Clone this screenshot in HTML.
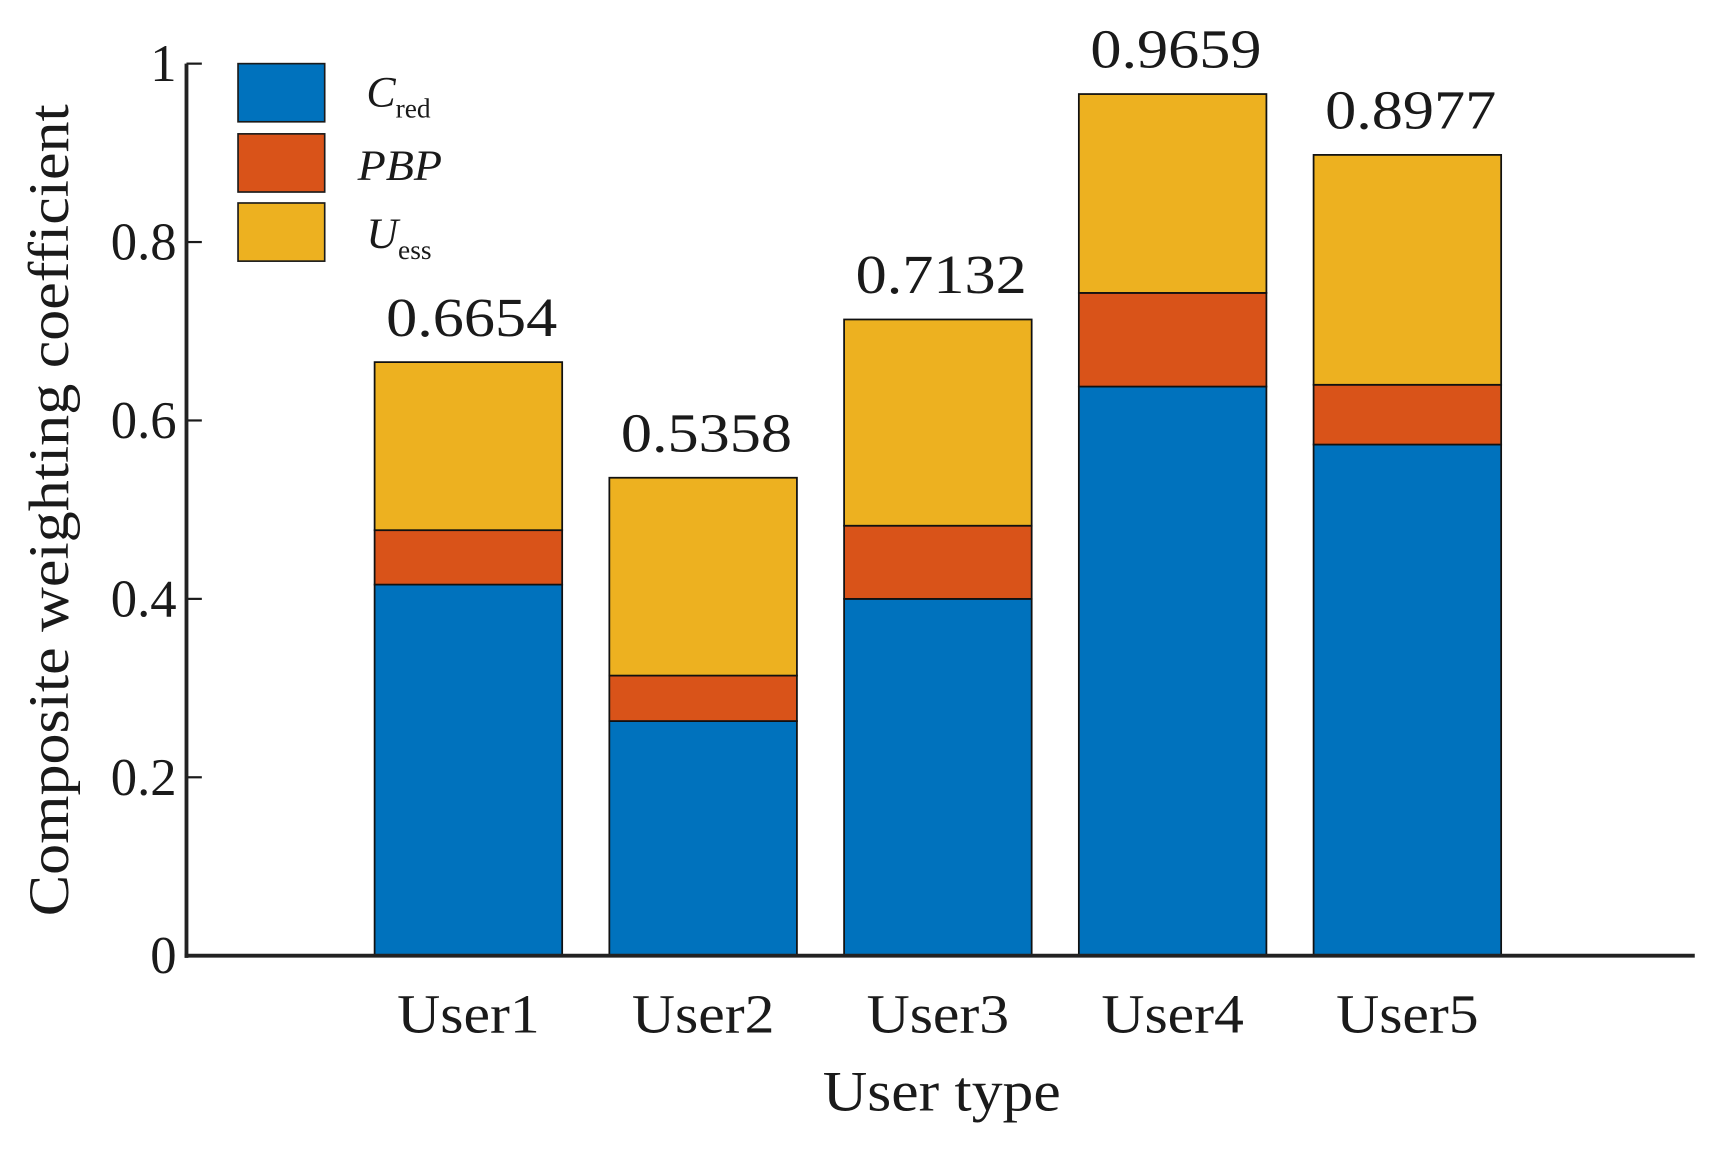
<!DOCTYPE html>
<html>
<head>
<meta charset="utf-8">
<style>
html,body{margin:0;padding:0;background:#fff;}
svg{display:block;}
text{font-family:"Liberation Serif",serif;fill:#1a1a1a;}
</style>
</head>
<body>
<svg id="chart" width="1720" height="1151" viewBox="0 0 1568 1049" preserveAspectRatio="none" xmlns="http://www.w3.org/2000/svg">
<g id="bars"></g>
<g id="axes"></g>
<g id="legend">
  <rect x="217" y="58" width="79" height="53" fill="#0072BD" stroke="#1a1a1a" stroke-width="1.5"/>
  <rect x="217" y="122" width="79" height="53" fill="#D95319" stroke="#1a1a1a" stroke-width="1.5"/>
  <rect x="217" y="185" width="79" height="53" fill="#EDB120" stroke="#1a1a1a" stroke-width="1.5"/>
  <text x="334" y="97" font-size="40" font-style="italic">C<tspan font-size="25" font-style="normal" dy="10">red</tspan></text>
  <text x="326" y="164" font-size="40" font-style="italic" textLength="77" lengthAdjust="spacingAndGlyphs">PBP</text>
  <text x="334" y="226" font-size="40" font-style="italic">U<tspan font-size="25" font-style="normal" dy="10">ess</tspan></text>
</g>
<text transform="translate(62,465) rotate(-90)" text-anchor="middle" font-size="52" textLength="740" lengthAdjust="spacingAndGlyphs">Composite weighting coefficient</text>
<text x="750" y="1012" font-size="52" textLength="217" lengthAdjust="spacingAndGlyphs">User type</text>
</svg>
<script>
const categories = ["User1","User2","User3","User4","User5"];
const credValues = [0.416, 0.263, 0.400, 0.638, 0.573];
const pbpValues = [0.061, 0.051, 0.082, 0.105, 0.067];
const totalValues = [0.6654, 0.5358, 0.7132, 0.9659, 0.8977];
const totalLabels = ["0.6654","0.5358","0.7132","0.9659","0.8977"];
const yTicks = [0, 0.2, 0.4, 0.6, 0.8, 1];
const yTickLabels = ["0","0.2","0.4","0.6","0.8","1"];

const NS = "http://www.w3.org/2000/svg";
const plotLeft = 170, plotRight = 1545, y0 = 871, y1 = 58;
function yScale(v){ return y0 - v*(y0-y1); }
function xScale(i){ return 427 + 214*i; }
const barW = 171;
const colors = ["#0072BD","#D95319","#EDB120"];
const bars = document.getElementById('bars');
const axes = document.getElementById('axes');
function mk(tag, attrs, parent){
  const e = document.createElementNS(NS, tag);
  for (const k in attrs) e.setAttribute(k, attrs[k]);
  parent.appendChild(e); return e;
}
categories.forEach((c,i)=>{
  const cx = xScale(i);
  const segs = [[0, credValues[i]], [credValues[i], credValues[i]+pbpValues[i]], [credValues[i]+pbpValues[i], totalValues[i]]];
  const names = ['cred','pbp','uess'];
  segs.forEach((s,j)=>{
    const r = mk('rect', {x:cx-barW/2, y:yScale(s[1]), width:barW, height:yScale(s[0])-yScale(s[1]), fill:colors[j], stroke:'#111','stroke-width':1.6}, bars);
    
    
  });
  const t = mk('text', {x:cx+3-78, y:yScale(totalValues[i])-24, 'font-size':50, textLength:156, lengthAdjust:'spacingAndGlyphs'}, bars);
  t.textContent = totalLabels[i];
  
  
  const xl = mk('text', {x:cx-65, y:941, 'font-size':50, textLength:130, lengthAdjust:'spacingAndGlyphs'}, axes);
  xl.textContent = c;
  
  
});
yTicks.forEach((v,i)=>{
  const y = yScale(v);
  const tk = mk('line', {x1:plotLeft, x2:plotLeft+14, y1:y, y2:y, stroke:'#1a1a1a','stroke-width':2}, axes);
  
  
  const tl = mk('text', {x:plotLeft-9, y:y+16, 'text-anchor':'end','font-size':48}, axes);
  tl.textContent = yTickLabels[i];
  
  
});
const ya = mk('line', {x1:plotLeft, x2:plotLeft, y1:y1, y2:y0+2, stroke:'#222','stroke-width':3.5}, axes);


const xa = mk('line', {x1:plotLeft-1.75, x2:plotRight, y1:y0, y2:y0, stroke:'#222','stroke-width':3.5}, axes);


</script>
</body>
</html>
